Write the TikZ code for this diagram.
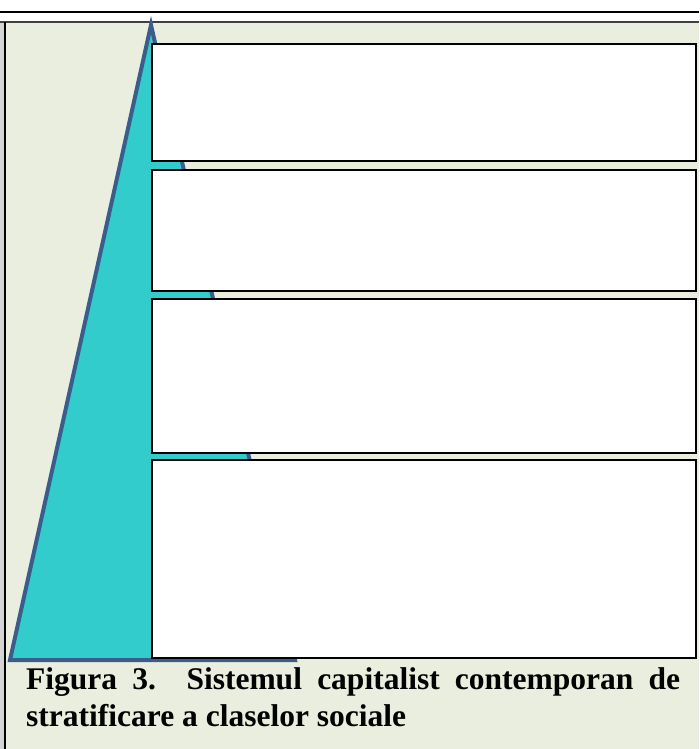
\documentclass[tikz,border=0pt]{standalone}
\usepackage{fontspec}
\setmainfont{Liberation Serif}
\definecolor{bgbeige}{HTML}{EAEEDE}
\definecolor{trifill}{HTML}{33CCCC}
\definecolor{triline}{HTML}{3A5D8C}
\definecolor{leftgray}{HTML}{D4D4D4}
\tikzset{
  layerbox/.style={draw=black, line width=2pt, fill=white, inner sep=0pt, minimum width=543.5pt, anchor=north west},
  captext/.style={inner sep=0pt, anchor=base west, font=\fontsize{31.5}{36}\selectfont\bfseries},
}
\begin{document}
\begin{tikzpicture}[x=1pt,y=-1pt]
\useasboundingbox (0,0) rectangle (699,749);
\fill[white] (0,0) rectangle (699,749);
% background panel
\fill[bgbeige] (0,22) rectangle (699,749);
\fill[leftgray] (0,22) rectangle (3.5,749);
\draw[black, line width=2pt] (0,12.5) -- (699,12.5);
\draw[black!75, line width=1.2pt] (0,22) -- (699,22);
\draw[black, line width=2pt] (4.6,22) -- (4.6,749);
% pyramid
\coordinate (apex) at (151,25);
\coordinate (bl) at (10,660);
\coordinate (br) at (295,660);
\filldraw[fill=trifill, draw=triline, line width=4pt, line join=miter] (apex) -- (bl) -- (br) -- cycle;
% layers
\node[layerbox, minimum height=117.3pt] (l1) at (151,42.7) {};
\node[layerbox, minimum height=121pt] (l2) at (151,168.5) {};
\node[layerbox, minimum height=154pt] (l3) at (151,298) {};
\node[layerbox, minimum height=198.5pt] (l4) at (151,458.5) {};
% caption
\node[captext] (cap1) at (26,689.5) {\makebox[654pt][s]{Figura 3.\ \ Sistemul capitalist contemporan de}};
\node[captext] (cap2) at (26,726) {stratificare a claselor sociale};
\end{tikzpicture}
\end{document}
